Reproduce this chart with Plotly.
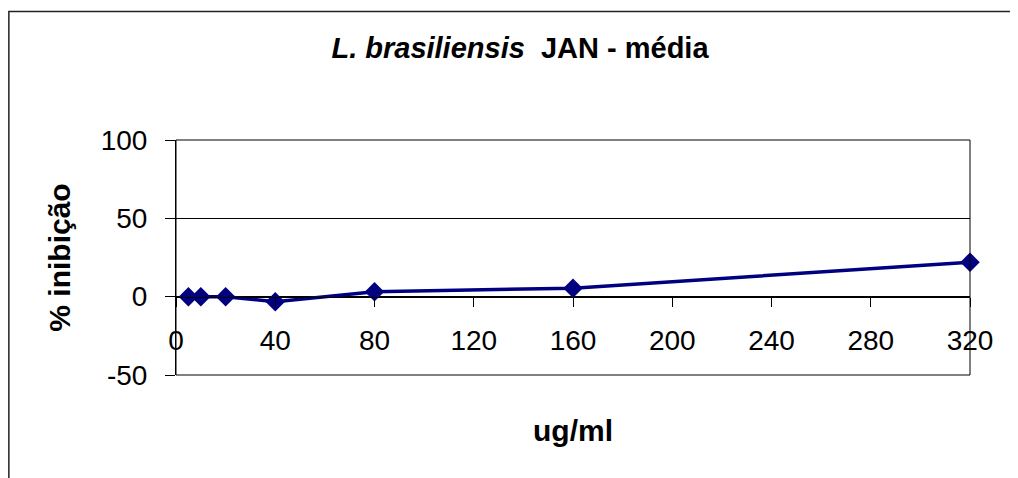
import plotly.graph_objects as go

# data
conc = [5, 10, 20, 40, 80, 160, 320]
inibicao = [0.0, 0.0, 0.0, -3.2, 3.2, 5.4, 22.0]
x_ticks = [0, 40, 80, 120, 160, 200, 240, 280, 320]
y_ticks = [-50, 0, 50, 100]
y_labels = ["-50", "0", "50", "100"]

FONT = "Arial, Liberation Sans, sans-serif"
NAVY = "#000080"

fig = go.Figure()

fig.add_trace(
    go.Scatter(
        x=conc,
        y=inibicao,
        mode="lines+markers",
        line=dict(color=NAVY, width=3.5),
        marker=dict(symbol="diamond", size=15, color=NAVY),
        cliponaxis=False,
        showlegend=False,
    )
)

# page body adds 8px offset, margins compensate
fig.update_layout(
    width=1018,
    height=478,
    margin=dict(l=168, r=56, t=132, b=111),
    paper_bgcolor="white",
    plot_bgcolor="white",
    font=dict(family=FONT, color="black"),
    title=dict(
        text="<b><i>L. brasiliensis</i>\u00a0 JAN - média</b>",
        x=512 / 1018,
        xanchor="center",
        y=1 - 40 / 478,
        yanchor="middle",
        font=dict(size=29, color="black"),
    ),
)

# x axis sits on the y=0 line, labels pushed down like Excel
fig.update_xaxes(
    range=[0, 320],
    tickvals=x_ticks,
    anchor="free",
    position=1 / 3,
    showline=True,
    linecolor="black",
    linewidth=1,
    ticks="outside",
    ticklen=9,
    tickcolor="black",
    tickfont=dict(size=28),
    ticklabelstandoff=10,
    showgrid=False,
    zeroline=False,
    title=dict(text="<b>ug/ml</b>", font=dict(size=30), standoff=64),
)

fig.update_yaxes(
    range=[-50, 100],
    tickvals=y_ticks,
    ticktext=y_labels,
    showline=True,
    linecolor="black",
    linewidth=1,
    ticks="outside",
    ticklen=10,
    tickcolor="black",
    tickfont=dict(size=28),
    ticklabelstandoff=12,
    showgrid=True,
    gridcolor="black",
    gridwidth=1,
    zeroline=False,
    title=dict(text="<b>% inibição</b>", font=dict(size=30), standoff=21),
)

# plot area frame
fig.add_shape(
    type="rect", xref="paper", yref="paper", x0=0, x1=1, y0=0, y1=1,
    line=dict(color="black", width=1),
)

# chart area border (left and top edges visible)
fig.add_shape(
    type="path", xref="paper", yref="paper",
    path="M -0.2105 -0.5 L -0.2105 1.547 L 1.07 1.547",
    line=dict(color="#222222", width=1.5),
)

fig.write_html("out.html")
